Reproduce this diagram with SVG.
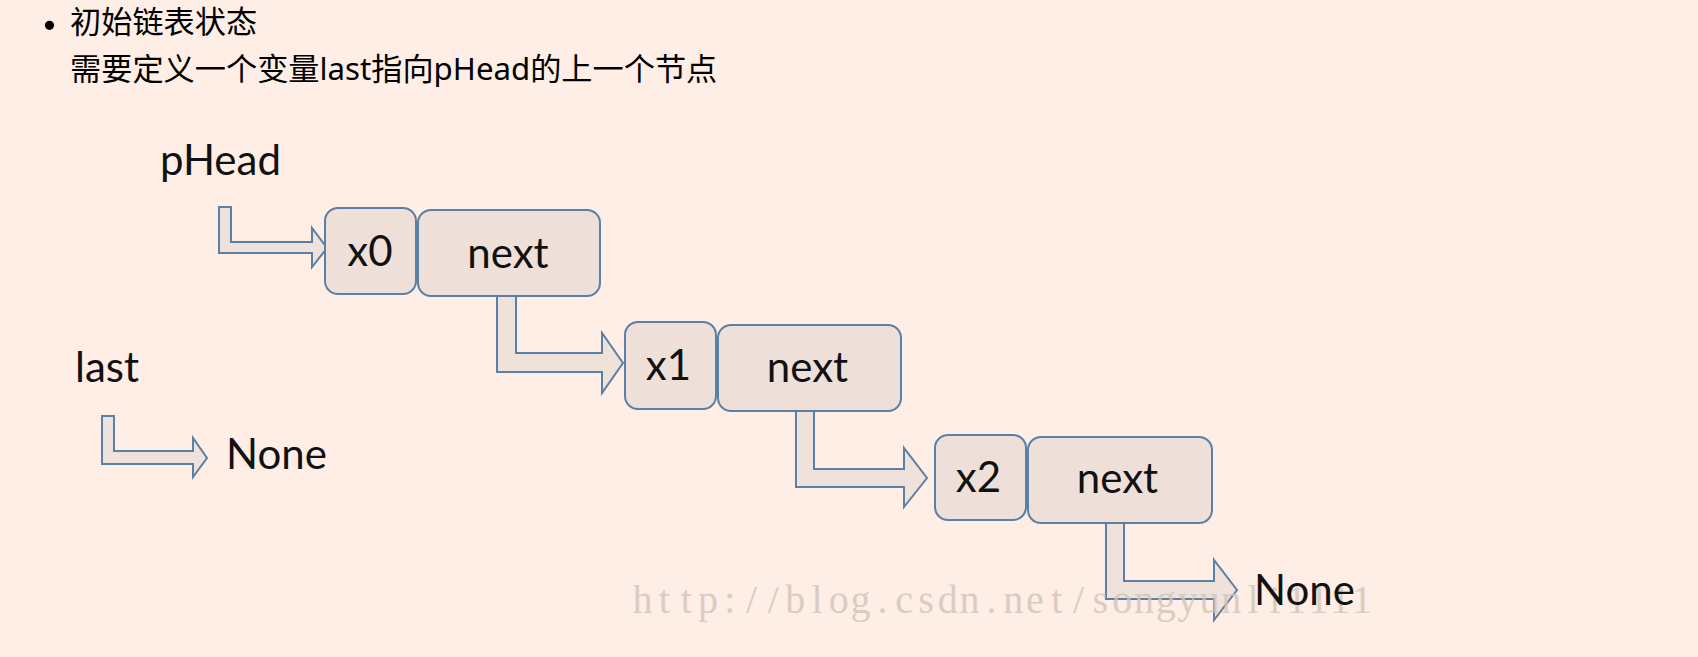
<svg xmlns="http://www.w3.org/2000/svg" width="1698" height="657" viewBox="0 0 1698 657">
<style>
.bg{fill:#feeee6}
.hdr{font-family:"Noto Sans","Noto Sans CJK SC",sans-serif;font-size:31.2px;fill:#000}
.node{fill:#eee0d8;stroke:#5b80a6;stroke-width:2}
.lbl{font-family:Lato,"Open Sans",sans-serif;font-size:42px;fill:#111}
.mid{text-anchor:middle}
.arr{fill:#eee2da;stroke:#5b80a6;stroke-width:2;stroke-linejoin:miter}
.wm{font-family:"Liberation Serif",serif;font-size:40px;fill:#d3c4b8;opacity:0.8;text-anchor:middle}
</style>
<rect class="bg" x="0" y="0" width="1698" height="657"/>
<g id="header">
<circle cx="49.5" cy="25.3" r="4.6" fill="#000"/>
<text class="hdr" x="70" y="33">初始链表状态</text>
<text class="hdr" x="70" y="80">需要定义一个变量last指向pHead的上一个节点</text>
</g>
<g id="connectors">
<polygon class="arr" points="219,207 231,207 231,242 312,242 312,228 327,248 312,267 312,253 219,253"/>
<polygon class="arr" points="497,296 516,296 516,353 602,353 602,333 623,363 602,393 602,372 497,372"/>
<polygon class="arr" points="796,411 814,411 814,469 904,469 904,448 927,478 904,507 904,487 796,487"/>
<polygon class="arr" points="1106,523 1124,523 1124,581 1214,581 1214,560 1237,590 1214,620 1214,599 1106,599"/>
<polygon class="arr" points="102,416 114,416 114,451 193,451 193,438 207,458 193,477 193,464 102,464"/>
</g>
<g id="node-pHead"><text class="lbl" x="160" y="175">pHead</text></g>
<g id="node-last"><text class="lbl" x="75" y="381.5">last</text></g>
<g id="node-none-last"><text class="lbl" x="226" y="469">None</text></g>
<g id="node-x0">
<rect class="node" x="325" y="208" width="91" height="86" rx="13"/>
<text class="lbl mid" x="370" y="266">x0</text>
</g>
<g id="node-next0">
<rect class="node" x="418" y="210" width="182" height="86" rx="13"/>
<text class="lbl mid" x="508" y="268">next</text>
</g>
<g id="node-x1">
<rect class="node" x="625" y="322" width="91" height="87" rx="13"/>
<text class="lbl mid" x="668.5" y="380">x1</text>
</g>
<g id="node-next1">
<rect class="node" x="718" y="325" width="183" height="86" rx="13"/>
<text class="lbl mid" x="807.5" y="382">next</text>
</g>
<g id="node-x2">
<rect class="node" x="935" y="435" width="91" height="85" rx="13"/>
<text class="lbl mid" x="978.5" y="492">x2</text>
</g>
<g id="node-next2">
<rect class="node" x="1028" y="437" width="184" height="86" rx="13"/>
<text class="lbl mid" x="1117.5" y="493">next</text>
</g>
<text class="wm" y="613" x="642.6 664.4 686.2 708 729.8 751.6 773.4 795.2 817 838.8 860.6 882.4 904.2 926 947.8 969.6 991.4 1013.2 1035 1056.8 1078.6 1100.4 1122.2 1144 1165.8 1187.6 1209.4 1231.2 1253 1274.8 1296.6 1318.4 1340.2 1362">http://blog.csdn.net/songyunli1111</text>
<g id="node-none-end"><text class="lbl" x="1254" y="605">None</text></g>
</svg>
